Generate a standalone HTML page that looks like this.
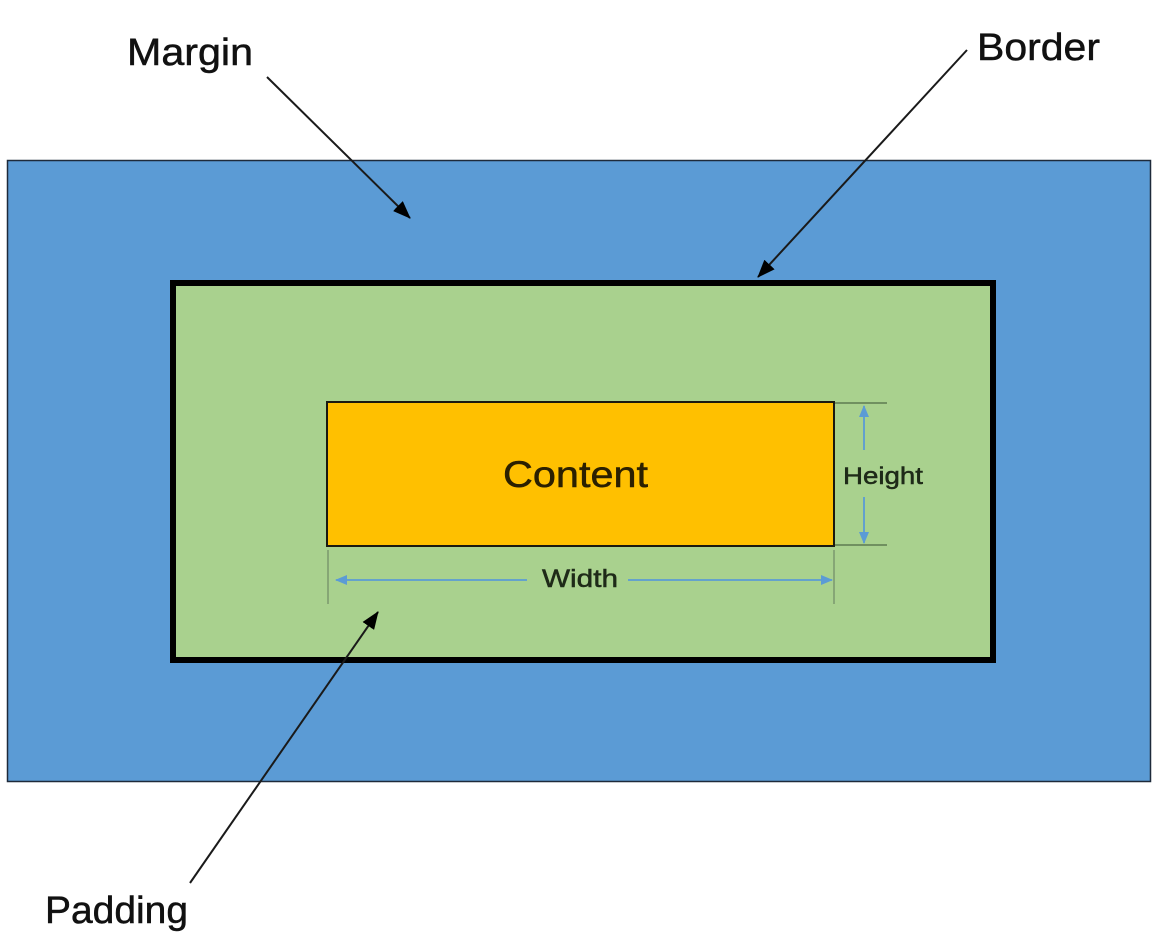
<!DOCTYPE html>
<html>
<head>
<meta charset="utf-8">
<style>
  html,body{margin:0;padding:0;background:#fff;}
  svg{display:block;}
  text{font-family:"Liberation Sans",sans-serif;}
</style>
</head>
<body>
<svg width="1163" height="946" viewBox="0 0 1163 946" xmlns="http://www.w3.org/2000/svg">
  <defs>
    <marker id="ah" markerWidth="18" markerHeight="14" refX="17" refY="7" orient="auto" markerUnits="userSpaceOnUse">
      <path d="M0,0 L18,7 L0,14 Z" fill="#000"/>
    </marker>
    <marker id="bh" markerWidth="12" markerHeight="10" refX="11" refY="5" orient="auto" markerUnits="userSpaceOnUse">
      <path d="M0,0 L12,5 L0,10 Z" fill="#5b9bd5"/>
    </marker>
  </defs>
  <rect x="0" y="0" width="1163" height="946" fill="#fff"/>

  <!-- Margin (blue) -->
  <rect x="7.5" y="160.5" width="1143" height="621" fill="#5b9bd5" stroke="#1e2a3a" stroke-width="1.5"/>

  <!-- Padding (green) with border -->
  <rect x="173" y="283" width="820" height="377" fill="#a9d18e" stroke="#000" stroke-width="6"/>

  <!-- Content -->
  <rect x="327" y="402" width="507" height="144" fill="#ffc000" stroke="#1a1a10" stroke-width="2"/>
  <text x="503" y="487" font-size="37" fill="#2b2000" stroke="#2b2000" stroke-width="0.5" textLength="145" lengthAdjust="spacingAndGlyphs">Content</text>

  <!-- Height dimension -->
  <line x1="835" y1="403" x2="887" y2="403" stroke="#4f6a45" stroke-width="1.2"/>
  <line x1="835" y1="545" x2="887" y2="545" stroke="#4f6a45" stroke-width="1.2"/>
  <line x1="864" y1="450" x2="864" y2="406" stroke="#5b9bd5" stroke-width="1.8" marker-end="url(#bh)"/>
  <line x1="864" y1="497" x2="864" y2="543" stroke="#5b9bd5" stroke-width="1.8" marker-end="url(#bh)"/>
  <text x="843" y="484" font-size="24" fill="#1e2a18" stroke="#1e2a18" stroke-width="0.5" textLength="80" lengthAdjust="spacingAndGlyphs">Height</text>

  <!-- Width dimension -->
  <line x1="328" y1="550" x2="328" y2="604" stroke="#6f8a65" stroke-width="1.2"/>
  <line x1="834" y1="550" x2="834" y2="604" stroke="#6f8a65" stroke-width="1.2"/>
  <line x1="527" y1="580" x2="336" y2="580" stroke="#5b9bd5" stroke-width="1.8" marker-end="url(#bh)"/>
  <line x1="628" y1="580" x2="832" y2="580" stroke="#5b9bd5" stroke-width="1.8" marker-end="url(#bh)"/>
  <text x="542" y="587" font-size="25" fill="#1e2a18" stroke="#1e2a18" stroke-width="0.5" textLength="76" lengthAdjust="spacingAndGlyphs">Width</text>

  <!-- Labels & pointer arrows -->
  <text x="127" y="65" font-size="38" fill="#111" stroke="#111" stroke-width="0.5" textLength="126" lengthAdjust="spacingAndGlyphs">Margin</text>
  <line x1="267" y1="77" x2="410" y2="218" stroke="#1a1a1a" stroke-width="2" marker-end="url(#ah)"/>

  <text x="977" y="60" font-size="38" fill="#111" stroke="#111" stroke-width="0.5" textLength="123" lengthAdjust="spacingAndGlyphs">Border</text>
  <line x1="967" y1="50" x2="758" y2="277" stroke="#1a1a1a" stroke-width="2" marker-end="url(#ah)"/>

  <text x="45" y="923" font-size="38" fill="#111" stroke="#111" stroke-width="0.5" textLength="143" lengthAdjust="spacingAndGlyphs">Padding</text>
  <line x1="190" y1="883" x2="378" y2="612" stroke="#1a1a1a" stroke-width="2" marker-end="url(#ah)"/>
</svg>
</body>
</html>
